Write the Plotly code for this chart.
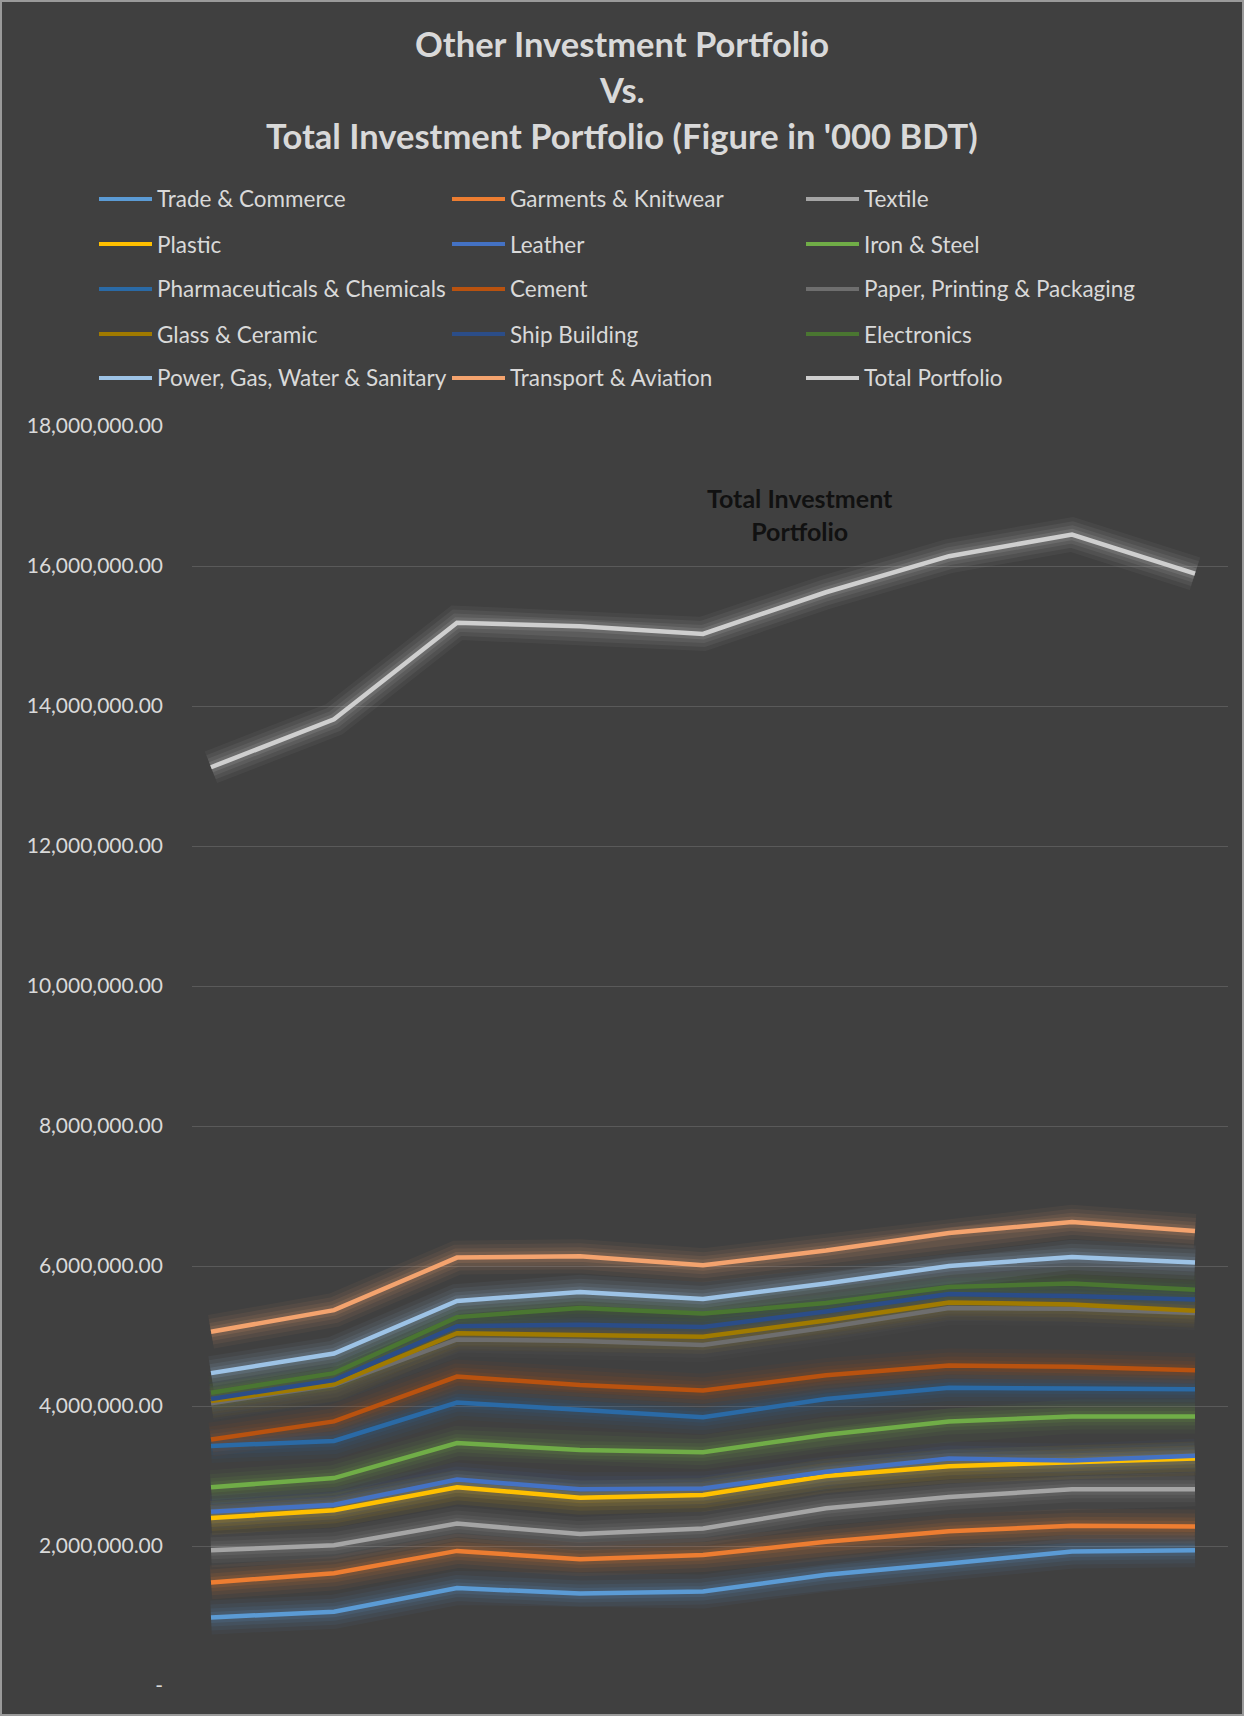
import plotly.graph_objects as go

# ---- data (values in '000 BDT) ----
periods = [1, 2, 3, 4, 5, 6, 7, 8, 9]

trade_commerce = [980000, 1060000, 1400000, 1320000, 1350000, 1590000, 1750000, 1920000, 1940000]
garments_knitwear = [1480000, 1610000, 1930000, 1810000, 1870000, 2060000, 2210000, 2290000, 2280000]
textile = [1940000, 2010000, 2320000, 2170000, 2250000, 2540000, 2700000, 2810000, 2810000]
plastic = [2400000, 2510000, 2840000, 2690000, 2730000, 3000000, 3140000, 3200000, 3250000]
leather = [2490000, 2590000, 2950000, 2810000, 2820000, 3060000, 3250000, 3220000, 3290000]
iron_steel = [2840000, 2970000, 3470000, 3370000, 3340000, 3590000, 3780000, 3850000, 3850000]
pharma_chemicals = [3430000, 3500000, 4050000, 3950000, 3840000, 4100000, 4260000, 4250000, 4240000]
cement = [3520000, 3780000, 4420000, 4300000, 4220000, 4440000, 4580000, 4560000, 4510000]
paper_printing = [4040000, 4300000, 4950000, 4930000, 4870000, 5120000, 5400000, 5390000, 5330000]
glass_ceramic = [4070000, 4310000, 5040000, 5010000, 4990000, 5220000, 5480000, 5450000, 5360000]
ship_building = [4100000, 4370000, 5140000, 5160000, 5130000, 5350000, 5600000, 5570000, 5520000]
electronics = [4190000, 4470000, 5270000, 5400000, 5320000, 5470000, 5700000, 5750000, 5660000]
power_gas_water = [4470000, 4750000, 5500000, 5630000, 5530000, 5750000, 6000000, 6130000, 6050000]
transport_aviation = [5060000, 5370000, 6120000, 6140000, 6010000, 6220000, 6470000, 6630000, 6500000]
total_portfolio = [13125000, 13810000, 15190000, 15140000, 15030000, 15625000, 16140000, 16450000, 15890000]

series_names = [
    "Trade & Commerce", "Garments & Knitwear", "Textile",
    "Plastic", "Leather", "Iron & Steel",
    "Pharmaceuticals & Chemicals", "Cement", "Paper, Printing & Packaging",
    "Glass & Ceramic", "Ship Building", "Electronics",
    "Power, Gas, Water & Sanitary", "Transport & Aviation", "Total Portfolio",
]
series_values = [
    trade_commerce, garments_knitwear, textile,
    plastic, leather, iron_steel,
    pharma_chemicals, cement, paper_printing,
    glass_ceramic, ship_building, electronics,
    power_gas_water, transport_aviation, total_portfolio,
]
series_colors = [
    "#5B9BD5", "#ED7D31", "#A5A5A5",
    "#FFC000", "#4472C4", "#70AD47",
    "#2A6AA6", "#B9520F", "#6E6E6E",
    "#A07A00", "#2B4D88", "#4A7631",
    "#9DC3E6", "#F4A36E", "#CFCFCF",
]

y_ticks = [0, 2e6, 4e6, 6e6, 8e6, 10e6, 12e6, 14e6, 16e6, 18e6]
y_tick_text = ["-"] + [f"{v:,.2f}" for v in y_ticks[1:]]

# ---- page geometry (pixels) ----
W, H = 1244, 1716
M_L, M_R, M_T, M_B = 192, 16, 426, 30
PLOT_W = W - M_L - M_R
PLOT_H = H - M_T - M_B
BG = "#404040"
TEXT = "#D9D9D9"
FONT = "Lato"


def px_x(x):
    return (x - M_L) / PLOT_W


def px_y(y):
    return (H - M_B - y) / PLOT_H


fig = go.Figure()

# soft glow under every line
for vals, col in zip(series_values, series_colors):
    for w, op in [(34, 0.05), (26, 0.07), (18, 0.09), (11, 0.13)]:
        fig.add_trace(go.Scatter(
            x=periods, y=vals, mode="lines",
            line=dict(color=col, width=w),
            opacity=op, showlegend=False, hoverinfo="skip",
        ))

# the lines themselves
for name, vals, col in zip(series_names, series_values, series_colors):
    fig.add_trace(go.Scatter(
        x=periods, y=vals, mode="lines", name=name,
        line=dict(color=col, width=4.5),
        showlegend=False,
    ))

# x range so the first/last periods sit inside the plot area
step = (1195 - 211) / (len(periods) - 1)
x_lo = periods[0] - (211 - M_L) / step
x_hi = periods[-1] + (W - M_R - 1195) / step

fig.update_layout(
    width=W, height=H,
    margin=dict(l=M_L, r=M_R, t=M_T, b=M_B),
    paper_bgcolor=BG, plot_bgcolor=BG,
    font=dict(family=FONT, color=TEXT),
    showlegend=False,
    xaxis=dict(range=[x_lo, x_hi], showgrid=False, zeroline=False,
               showticklabels=False, showline=False, ticks=""),
    yaxis=dict(range=[0, 18e6], tickvals=y_ticks, ticktext=y_tick_text,
               showgrid=True, gridcolor="#5A5A5A", gridwidth=1,
               zeroline=True, zerolinecolor=BG, zerolinewidth=2,
               showline=False, ticks="", ticklabelstandoff=28,
               tickfont=dict(family=FONT, size=21, color=TEXT)),
)

# thin frame round the chart area
fig.add_shape(type="rect", xref="paper", yref="paper",
              x0=px_x(1), x1=px_x(W - 1), y0=px_y(H - 1), y1=px_y(1),
              line=dict(color="#9A9A9A", width=2), layer="above")

# title (three centred lines)
title_lines = ["Other Investment Portfolio", "Vs.",
               "Total Investment Portfolio (Figure in '000 BDT)"]
title_y = [44, 89, 136]
for txt, yy in zip(title_lines, title_y):
    fig.add_annotation(
        xref="paper", yref="paper", x=px_x(W / 2), y=px_y(yy),
        text=f"<b>{txt}</b>", showarrow=False,
        xanchor="center", yanchor="middle",
        font=dict(family=FONT, size=34.5, color=TEXT),
    )

# legend laid out as a 3-column grid
col_x = [99, 452, 806]
row_y = [199, 244, 289, 334, 378]
for i, (name, col) in enumerate(zip(series_names, series_colors)):
    cx = col_x[i % 3]
    ry = row_y[i // 3]
    fig.add_shape(type="line", xref="paper", yref="paper",
                  x0=px_x(cx), x1=px_x(cx + 53), y0=px_y(ry), y1=px_y(ry),
                  line=dict(color=col, width=4))
    fig.add_annotation(
        xref="paper", yref="paper", x=px_x(cx + 56), y=px_y(ry),
        text=name, showarrow=False, xanchor="left", yanchor="middle",
        font=dict(family=FONT, size=22.5, color=TEXT),
    )

# label next to the total line
fig.add_annotation(
    x=periods[0] + (800 - 211) / step, y=16.74e6,
    text="<b>Total Investment<br>Portfolio</b>", showarrow=False,
    xanchor="center", yanchor="middle",
    font=dict(family=FONT, size=25, color="#111111"),
)

fig.write_html("out.html")
